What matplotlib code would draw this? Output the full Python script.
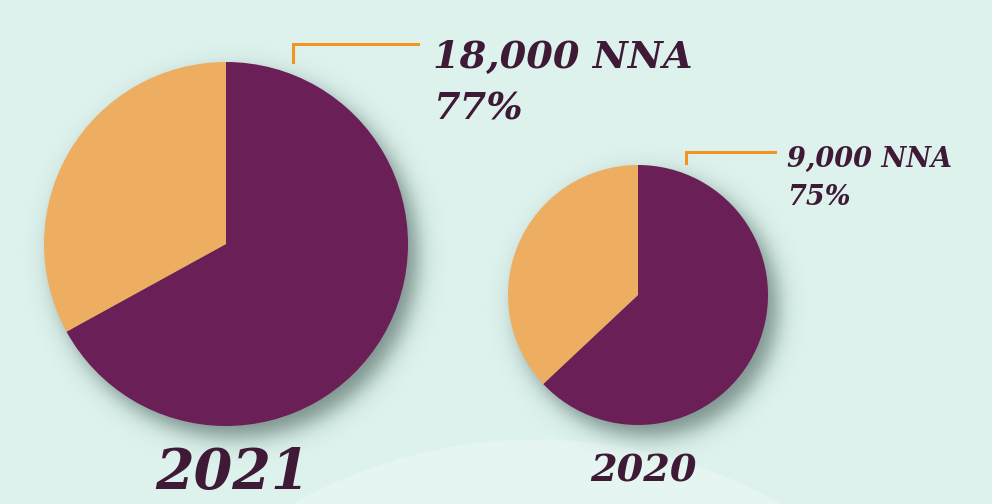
import numpy as np
import matplotlib
matplotlib.use("Agg")
import matplotlib.pyplot as plt
from matplotlib.patches import Circle

W, H = 992, 504

years = ["2021", "2020"]
nna_labels = ["18,000 NNA", "9,000 NNA"]
pct_labels = ["77%", "75%"]
purple_share = [67, 63]
orange_share = [33, 37]

BG = "#ddf2ed"
PURPLE = "#6a1f56"
ORANGE = "#edae62"
TEXT = "#3f1a36"
LINE = "#f0961e"

# pixel layout (x, y from top)
centers = [(226, 244), (638, 295)]
radii = [182, 130]


def up(y):
    return H - y


fig = plt.figure(figsize=(W / 100, H / 100), dpi=100)
fig.patch.set_facecolor(BG)
ax = fig.add_axes([0, 0, 1, 1])

# faint lighter circle at the bottom
ax.add_patch(Circle((537, up(935)), 495, color="#e5f5f1", zorder=0))

# soft drop shadows
yy, xx = np.mgrid[0:H, 0:W]
alpha = np.zeros((H, W))
for (cx, cy), r in zip(centers, radii):
    d = np.hypot(xx - (cx + 9), yy - (cy + 11))
    a = 0.55 * 0.5 * (1 - np.tanh((d - r) / 13.0))
    alpha = np.maximum(alpha, a)
rgba = np.zeros((H, W, 4))
rgba[..., 0] = 0.15
rgba[..., 1] = 0.25
rgba[..., 2] = 0.23
rgba[..., 3] = alpha
ax.imshow(rgba, extent=[0, W, 0, H], origin="upper", zorder=1, interpolation="bilinear")

for i in range(2):
    cx, cy = centers[i]
    ax.pie([purple_share[i], orange_share[i]], colors=[PURPLE, ORANGE],
           startangle=90, counterclock=False, center=(cx, up(cy)),
           radius=radii[i], frame=True,
           wedgeprops=dict(linewidth=0, zorder=2))
ax.set_xlim(0, W)
ax.set_ylim(0, H)
ax.set_aspect("equal")
ax.axis("off")

# callout lines
ax.plot([293, 293, 418], [up(62), up(44), up(44)], color=LINE, lw=2.2, zorder=3,
        solid_joinstyle="miter")
ax.plot([686, 686, 775], [up(163), up(152), up(152)], color=LINE, lw=2.2, zorder=3,
        solid_joinstyle="miter")

font = dict(family="DejaVu Serif", weight="bold", style="italic", color=TEXT, zorder=4)
ax.text(433, up(68), nna_labels[0], fontsize=27.5, va="baseline", **font)
ax.text(433, up(120), pct_labels[0], fontsize=27.5, va="baseline", **font)
ax.text(787, up(167), nna_labels[1], fontsize=19.5, va="baseline", **font)
ax.text(787, up(205), pct_labels[1], fontsize=19.5, va="baseline", **font)
ax.text(155, up(489), years[0], fontsize=40, va="baseline", **font)
ax.text(590, up(481), years[1], fontsize=27.5, va="baseline", **font)

plt.savefig("out.png", dpi=100, facecolor=BG)
